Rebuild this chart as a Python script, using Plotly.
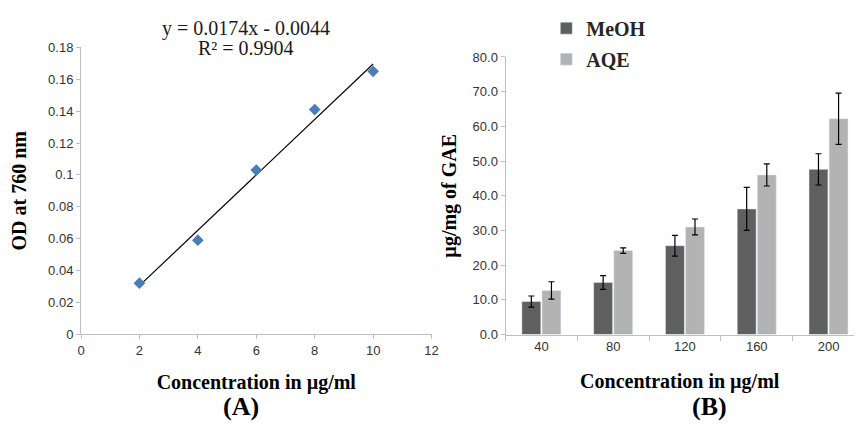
import plotly.graph_objects as go

# Panel A data
conc_a = [2, 4, 6, 8, 10]
od_a = [0.032, 0.059, 0.103, 0.141, 0.165]
slope, intercept = 0.0174, -0.0044
fit_x = [2, 10]
fit_y = [slope * v + intercept for v in fit_x]

# Panel B data
cats_b = ["40", "80", "120", "160", "200"]
meoh = [9.5, 15.0, 25.6, 36.2, 47.6]
meoh_err = [1.6, 2.0, 3.0, 6.2, 4.5]
aqe = [12.7, 24.2, 31.0, 46.0, 62.2]
aqe_err = [2.5, 0.8, 2.3, 3.2, 7.4]

serif = "Liberation Serif"
sans = "Liberation Sans"
tick_font_a = dict(family=sans, size=13, color="#333333")
tick_font_b = dict(family=sans, size=13, color="#333333")
axis_col = "#bfbfbf"
title_font = dict(family=serif, size=20, color="black")

fig = go.Figure()

fig.add_trace(go.Scatter(x=fit_x, y=fit_y, mode="lines", line=dict(color="black", width=1.2),
                         xaxis="x", yaxis="y", showlegend=False, hoverinfo="skip"))
fig.add_trace(go.Scatter(x=conc_a, y=od_a, mode="markers",
                         marker=dict(symbol="diamond", size=9, color="#4a7ebb"),
                         xaxis="x", yaxis="y", showlegend=False))

fig.add_trace(go.Bar(x=cats_b, y=meoh, name="<b>MeOH</b>", marker=dict(color="#5f5f5f"),
                     error_y=dict(type="data", array=meoh_err, color="black", thickness=1.2, width=3),
                     xaxis="x2", yaxis="y2", legendgroup="a"))
fig.add_trace(go.Bar(x=cats_b, y=aqe, name="<b>AQE</b>", marker=dict(color="#b3b3b3"),
                     error_y=dict(type="data", array=aqe_err, color="black", thickness=1.2, width=3),
                     xaxis="x2", yaxis="y2", legendgroup="b"))

fig.update_layout(
    width=861, height=428,
    margin=dict(l=0, r=0, t=0, b=0),
    paper_bgcolor="white", plot_bgcolor="white",
    barmode="group", bargap=0.44, bargroupgap=0.06,
    showlegend=True,
    legend=dict(x=0.638, y=0.996, xanchor="left", yanchor="top",
                font=dict(family=serif, size=20, color="#262626"),
                tracegroupgap=2, bgcolor="rgba(0,0,0,0)", itemwidth=30),
    xaxis=dict(domain=[0.0906, 0.503], range=[0, 12], dtick=2, showgrid=False, zeroline=False,
               showline=True, linecolor=axis_col, linewidth=1, ticks="outside", ticklen=4,
               tickcolor=axis_col, tickfont=tick_font_a,
               title=dict(text="<b>Concentration in µg/ml</b>", font=title_font, standoff=18)),
    yaxis=dict(domain=[0.208, 0.902], range=[0, 0.18], dtick=0.02, showgrid=False, zeroline=False,
               showline=True, linecolor=axis_col, linewidth=1, ticks="outside", ticklen=4,
               tickcolor=axis_col, tickfont=tick_font_a,
               title=dict(text="<b>OD at 760 nm</b>", font=title_font, standoff=16)),
    xaxis2=dict(domain=[0.590, 1.0], anchor="y2", range=[-0.5, 4.355], type="category",
                showgrid=False, zeroline=False, showline=True, linecolor=axis_col, linewidth=1,
                ticks="outside", ticklen=5, tickcolor=axis_col, tickson="boundaries", tickfont=tick_font_b,
                title=dict(text="<b>Concentration in µg/ml</b>", font=title_font, standoff=20)),
    yaxis2=dict(domain=[0.207, 0.879], anchor="x2", range=[0, 80], dtick=10, tickformat=".1f",
                showgrid=False, zeroline=False, showline=True, linecolor=axis_col, linewidth=1,
                ticks="outside", ticklen=4, tickcolor=axis_col, tickfont=tick_font_b,
                title=dict(text="<b>µg/mg of GAE</b>", font=title_font, standoff=10)),
    annotations=[
        dict(text="y = 0.0174x - 0.0044", x=245 / 861, y=1 - 22 / 428,
             xref="paper", yref="paper", xanchor="center", yanchor="middle",
             showarrow=False, font=dict(family=serif, size=20, color="#1a1a1a")),
        dict(text="R² = 0.9904", x=245 / 861, y=1 - 43 / 428,
             xref="paper", yref="paper", xanchor="center", yanchor="middle",
             showarrow=False, font=dict(family=serif, size=20, color="#1a1a1a")),
        dict(text="<b>(A)</b>", x=240 / 861, y=1 - 414 / 428, xref="paper", yref="paper",
             xanchor="center", yanchor="middle",
             showarrow=False, font=dict(family=serif, size=26, color="black")),
        dict(text="<b>(B)</b>", x=715 / 861, y=1 - 414 / 428, xref="paper", yref="paper",
             xanchor="center", yanchor="middle",
             showarrow=False, font=dict(family=serif, size=26, color="black")),
    ],
)

fig.write_html("out.html")
